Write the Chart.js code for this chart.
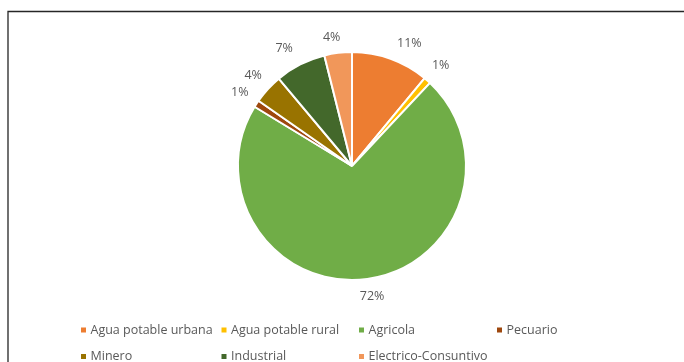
<!DOCTYPE html>
<html>
<head>
<meta charset="utf-8">
<script src="https://cdn.jsdelivr.net/npm/chart.js@4/dist/chart.umd.min.js"></script>
<style>
  html, body { margin: 0; padding: 0; background: #ffffff; }
  #wrap { position: relative; width: 684px; height: 362px; overflow: hidden; }
</style>
</head>
<body>
<div id="wrap"><canvas id="c"></canvas></div>
<script>
const categories = ["Agua potable urbana", "Agua potable rural", "Agricola", "Pecuario", "Minero", "Industrial", "Electrico-Consuntivo"];
const shares = [11.0, 1.0, 71.7, 1.0, 4.2, 7.2, 3.9];
const sliceColors = ["#ED7D31", "#FFC000", "#70AD47", "#9E480E", "#997300", "#43682B", "#F1975A"];

const FONT = '"Open Sans", "DejaVu Sans", sans-serif';
const TEXT_COLOR = '#595959';

const framePlugin = {
  id: 'frame',
  beforeDraw(chart) {
    const ctx = chart.ctx;
    ctx.save();
    ctx.fillStyle = '#ffffff';
    ctx.fillRect(0, 0, chart.width, chart.height);
    ctx.strokeStyle = '#262626';
    ctx.lineWidth = 1.3;
    ctx.beginPath();
    ctx.moveTo(8, chart.height + 10);
    ctx.lineTo(8, 11.5);
    ctx.lineTo(chart.width + 10, 11.5);
    ctx.stroke();
    ctx.restore();
  }
};

const outsideLabels = {
  id: 'outsideLabels',
  afterDatasetsDraw(chart, args, opts) {
    const ctx = chart.ctx;
    const meta = chart.getDatasetMeta(0);
    const total = shares.reduce((a, b) => a + b, 0);
    ctx.save();
    ctx.font = '12.5px ' + FONT;
    ctx.fillStyle = TEXT_COLOR;
    ctx.textAlign = 'center';
    ctx.textBaseline = 'middle';
    meta.data.forEach((arc, i) => {
      const p = arc.getProps(['x', 'y', 'startAngle', 'endAngle', 'outerRadius'], true);
      const mid = (p.startAngle + p.endAngle) / 2;
      const r = p.outerRadius + opts.gap;
      const nudge = (opts.nudge && opts.nudge[i]) || [0, 0];
      const x = p.x + Math.cos(mid) * r + nudge[0];
      const y = p.y + Math.sin(mid) * r + nudge[1];
      const pct = Math.round(shares[i] / total * 100) + '%';
      ctx.fillText(pct, x, y);
    });
    ctx.restore();
  }
};

const gridLegend = {
  id: 'gridLegend',
  afterDraw(chart, args, opts) {
    const ctx = chart.ctx;
    ctx.save();
    ctx.font = '12.5px ' + FONT;
    ctx.textBaseline = 'middle';
    ctx.textAlign = 'left';
    categories.forEach((label, i) => {
      const col = i % opts.columns.length;
      const row = Math.floor(i / opts.columns.length);
      const x = opts.columns[col];
      const y = opts.rows[row];
      ctx.fillStyle = sliceColors[i];
      ctx.fillRect(x, y - 2.5, 5, 5);
      ctx.fillStyle = TEXT_COLOR;
      ctx.fillText(label, x + 9.5, y);
    });
    ctx.restore();
  }
};

new Chart(document.getElementById('c'), {
  type: 'pie',
  data: {
    labels: categories,
    datasets: [{
      data: shares,
      backgroundColor: sliceColors,
      borderColor: '#ffffff',
      borderWidth: 2
    }]
  },
  options: {
    responsive: true,
    maintainAspectRatio: false,
    animation: false,
    layout: { padding: { left: 237, right: 217, top: 51, bottom: 81 } },
    plugins: {
      legend: { display: false },
      tooltip: { enabled: false },
      outsideLabels: { gap: 20, nudge: { 0: [12, 4], 2: [2, -2], 5: [-7, 2], 6: [-4, 4] } },
      gridLegend: { columns: [81, 221.5, 359, 497], rows: [330, 356.5] }
    }
  },
  plugins: [framePlugin, outsideLabels, gridLegend]
});
</script>
</body>
</html>
